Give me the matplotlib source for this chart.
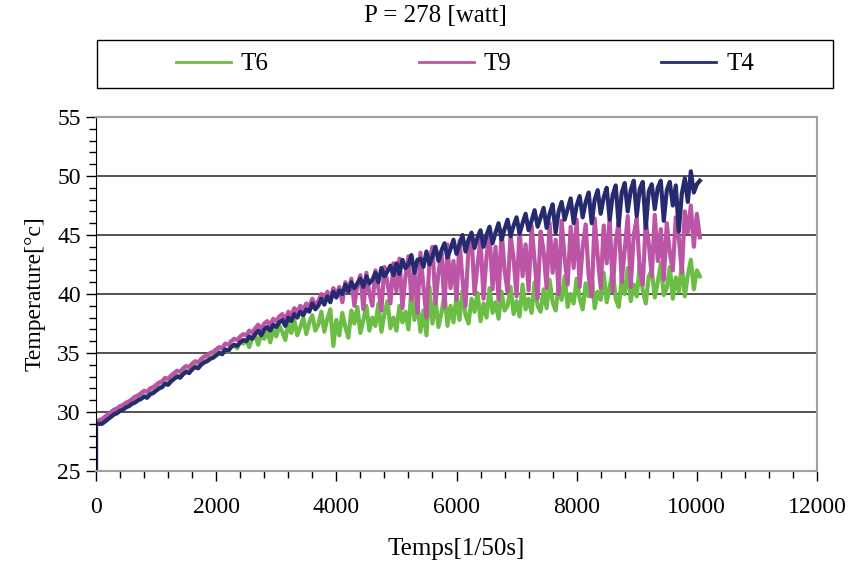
import numpy as np
import matplotlib
matplotlib.use("Agg")
import matplotlib.pyplot as plt
from matplotlib.ticker import MultipleLocator
from matplotlib.patches import Rectangle

plt.rcParams['font.family'] = ['Liberation Serif', 'DejaVu Serif']

# readings every 50 units; the very first point is the start at 25 deg
temps = np.concatenate([[0], np.arange(0, 10051, 50)])

T6 = [25.0,
      29.0, 29.0, 29.0, 29.2, 29.4, 29.6, 29.8, 29.9, 30.1, 30.3,
      30.4, 30.6, 30.7, 30.9, 31.0, 31.2, 31.4, 31.3, 31.6, 31.7,
      31.9, 32.1, 32.2, 32.5, 32.4, 32.7, 32.9, 33.1, 33.0, 33.3,
      33.5, 33.4, 33.7, 33.9, 33.8, 34.1, 34.3, 34.4, 34.6, 34.7,
      34.9, 35.1, 34.9, 35.3, 35.1, 35.6, 35.7, 35.4, 36.0, 35.8,
      36.1, 35.5, 36.3, 36.5, 35.7, 36.6, 36.2, 36.9, 35.9, 37.0,
      36.4, 37.3, 36.8, 36.1, 37.5, 36.7, 37.8, 36.5, 37.2, 38.0,
      36.6, 37.6, 38.2, 36.9, 37.4, 38.5, 36.8, 37.9, 38.7, 35.6,
      37.8, 36.5, 38.4, 37.2, 36.3, 38.6, 37.5, 38.9, 36.7, 37.8,
      39.0, 36.9, 38.0, 37.3, 39.2, 36.8, 38.3, 39.4, 37.1, 38.0,
      36.9, 39.0, 37.6, 38.5, 37.0, 40.4, 37.8, 39.2, 36.8, 38.6,
      36.5, 40.6, 37.5, 39.5, 37.2, 38.4, 40.0, 37.3, 39.0, 37.6,
      39.8, 37.8, 40.3, 38.2, 37.5, 39.6, 38.5, 40.1, 37.7, 39.2,
      38.0, 40.5, 38.4, 39.3, 37.9, 40.2, 38.6, 39.0, 40.6, 38.3,
      39.4, 38.1, 40.8, 38.7, 39.6, 38.4, 41.0, 39.0, 38.5, 40.4,
      38.8, 41.2, 39.3, 38.6, 40.7, 39.5, 41.5, 38.9, 40.0, 39.2,
      41.3, 39.6, 38.7, 40.9, 39.8, 41.6, 38.8, 40.2, 39.5, 41.8,
      39.3, 40.6, 42.0, 39.6, 38.9, 41.2, 40.0, 42.2, 39.4, 40.8,
      39.8, 42.4, 40.3, 39.2, 41.5, 42.0, 39.7, 41.0, 42.6, 39.9,
      40.5, 42.3, 39.6, 41.4, 40.2, 42.5, 39.8, 41.6, 42.9, 40.4,
      42.0, 41.5]

T9 = [25.0,
      29.3, 29.3, 29.4, 29.6, 29.8, 30.0, 30.2, 30.3, 30.5, 30.6,
      30.8, 30.9, 31.1, 31.3, 31.4, 31.6, 31.8, 31.7, 32.0, 32.1,
      32.3, 32.5, 32.6, 32.9, 32.8, 33.1, 33.3, 33.5, 33.4, 33.7,
      33.9, 33.8, 34.1, 34.3, 34.2, 34.5, 34.7, 34.8, 35.0, 35.1,
      35.3, 35.5, 35.4, 35.8, 35.7, 36.0, 36.2, 36.1, 36.4, 36.6,
      36.5, 36.9, 36.7, 37.1, 37.4, 37.0, 37.5, 37.7, 37.4, 37.9,
      37.7, 38.1, 38.3, 37.8, 38.5, 38.2, 38.8, 38.5, 39.0, 38.7,
      39.2, 38.9, 39.6, 39.1, 39.4, 40.0, 39.4, 40.2, 39.6, 40.5,
      39.9, 40.6, 39.3, 41.0, 40.2, 41.3, 39.0, 40.8, 41.6, 38.7,
      41.8, 40.1, 39.0, 42.0, 40.5, 38.6, 42.3, 41.0, 39.2, 42.6,
      40.2, 43.0, 38.8, 41.5, 43.2, 39.5, 42.0, 38.4, 43.5, 40.6,
      38.0, 42.8, 44.0, 39.2, 41.8, 43.5, 38.9, 44.2, 40.5, 42.8,
      39.5, 44.5, 41.2, 39.0, 43.9, 45.0, 40.0, 42.5, 44.6, 39.6,
      43.2, 45.2, 40.4, 44.0, 39.5, 45.4, 42.0, 40.2, 45.0, 43.0,
      39.8, 45.6, 41.5, 44.2, 40.3, 45.8, 42.8, 39.6, 45.3, 43.6,
      40.5, 46.0, 41.8, 44.6, 40.0, 46.2, 43.0, 40.8, 45.7, 42.2,
      46.3, 40.6, 44.0, 45.9, 41.5, 39.8, 46.4, 43.2, 40.5, 45.8,
      42.6, 46.5, 40.2, 44.5, 46.1, 41.0, 43.8, 46.6, 40.6, 45.0,
      46.4, 42.0, 40.8, 46.2, 44.3, 41.5, 46.7, 42.8, 45.5, 41.2,
      46.0, 43.5, 42.0, 46.5, 44.8, 41.8, 47.0, 45.2, 47.5, 44.0,
      46.8, 44.8]

T4 = [25.0,
      29.0, 29.0, 29.0, 29.2, 29.4, 29.6, 29.8, 29.9, 30.1, 30.2,
      30.4, 30.5, 30.7, 30.8, 31.0, 31.1, 31.3, 31.2, 31.5, 31.6,
      31.8, 32.0, 32.1, 32.4, 32.3, 32.6, 32.8, 33.0, 32.9, 33.2,
      33.4, 33.3, 33.6, 33.8, 33.7, 34.0, 34.2, 34.3, 34.5, 34.6,
      34.8, 35.0, 34.9, 35.3, 35.2, 35.5, 35.7, 35.6, 35.9, 36.1,
      36.0, 36.4, 36.2, 36.6, 36.9, 36.5, 37.0, 37.2, 36.9, 37.4,
      37.2, 37.6, 37.8, 37.3, 38.0, 37.7, 38.3, 38.0, 38.5, 38.2,
      38.7, 38.5, 39.2, 38.7, 39.0, 39.6, 39.1, 39.8, 39.3, 40.2,
      39.7, 40.3, 40.0, 40.8, 40.2, 41.0, 40.5, 40.9, 41.3, 40.6,
      41.5, 40.9, 41.2, 41.8, 41.0, 42.2, 41.5, 41.9, 42.4, 41.6,
      42.6, 41.7, 42.9, 42.2, 42.5, 43.3, 41.8, 42.9, 43.0, 42.3,
      43.6, 42.5, 43.2, 44.0, 42.8, 43.7, 44.3, 43.1, 43.8, 44.6,
      43.4, 44.2, 45.0, 43.6, 44.6, 45.2, 43.9, 44.8, 45.4, 44.0,
      45.0, 45.7, 44.3, 45.2, 46.0, 44.6, 45.5, 46.3, 44.9, 45.8,
      46.5, 45.1, 46.0, 46.8, 45.4, 46.2, 47.1, 45.7, 46.5, 47.3,
      45.6, 46.8, 47.6, 45.2, 47.0, 47.8, 46.3, 47.2, 48.1, 46.0,
      47.5, 48.3, 46.5, 47.8, 48.6, 46.0, 48.0, 48.8, 46.8, 48.2,
      49.0, 46.3, 48.4, 49.2, 45.8, 48.6, 49.4, 47.0, 48.8, 49.6,
      46.6, 48.9, 49.5, 45.6, 48.7, 49.3, 47.2, 49.0, 49.6, 46.2,
      48.8, 49.5, 47.5, 49.2, 45.3, 48.5, 49.8, 47.8, 50.4, 48.6,
      49.3, 49.6]

fig = plt.figure(figsize=(8.51, 5.65), dpi=100)
ax = fig.add_axes([96/851, 1 - 471/565, 721/851, 354/565])

l1, = ax.plot(temps, T6, color='#6cbd45', lw=3.0, label='T6')
l2, = ax.plot(temps, T9, color='#bd55a6', lw=3.0, label='T9')
l3, = ax.plot(temps, T4, color='#262a6e', lw=3.0, label='T4')

ax.set_xlim(0, 12000)
ax.set_ylim(25, 55)
ax.xaxis.set_major_locator(MultipleLocator(2000))
ax.xaxis.set_minor_locator(MultipleLocator(400))
ax.yaxis.set_major_locator(MultipleLocator(5))
ax.yaxis.set_minor_locator(MultipleLocator(1))
ax.tick_params(which='major', direction='out', length=7, width=1, labelsize=17, color='black')
ax.tick_params(which='minor', direction='out', length=5, width=1, color='black')
ax.tick_params(axis='x', pad=12)
ax.tick_params(axis='y', pad=4)
for v in [30, 35, 40, 45, 50]:
    ax.axhline(v, color='#222222', lw=1.1, zorder=0)

for s in ['top', 'right', 'bottom']:
    ax.spines[s].set_color('#a0a0a0')
    ax.spines[s].set_linewidth(1.5)
ax.spines['left'].set_color('black')

ax.set_xlabel('Temps[1/50s]', fontsize=18, labelpad=14)
ax.set_ylabel('Temperature[°c]', fontsize=17, labelpad=8)

fig.text(435/851, 1 - 16/565, 'P = 278 [watt]', ha='center', va='center', fontsize=18)

# legend frame drawn as its own box, entries centred inside
fig.patches.append(Rectangle((97/851, 1 - 88/565), 736/851, 48/565, transform=fig.transFigure,
                             fill=False, edgecolor='black', lw=1.0))
leg = fig.legend(handles=[l1, l2, l3], loc='center', ncol=3,
                 bbox_to_anchor=(465/851, 1 - 64/565),
                 fontsize=18, frameon=False, handlelength=2.2,
                 handletextpad=0.4, columnspacing=6.0, borderaxespad=0)
for h in leg.get_lines():
    h.set_linewidth(2.0)

fig.savefig('out.png', dpi=100)
